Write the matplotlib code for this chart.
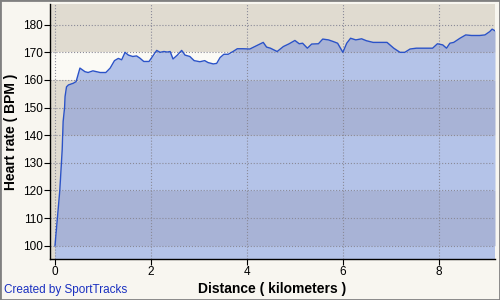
import numpy as np
import matplotlib.pyplot as plt
from matplotlib.patches import Rectangle

# distance (km) and heart rate (bpm)
dist = [0.0, 0.1, 0.15, 0.17, 0.2, 0.21, 0.24, 0.28, 0.38, 0.44, 0.52, 0.625, 0.69, 0.79,
        0.94, 1.06, 1.15, 1.24, 1.32, 1.39, 1.46, 1.53, 1.62, 1.70, 1.77, 1.85, 1.96,
        2.04, 2.12, 2.19, 2.27, 2.34, 2.40, 2.46, 2.55, 2.64, 2.71, 2.81, 2.90, 3.02,
        3.12, 3.19, 3.30, 3.37, 3.44, 3.52, 3.61, 3.71, 3.80, 3.92, 4.06, 4.20, 4.34,
        4.41, 4.49, 4.63, 4.76, 4.88, 5.0, 5.09, 5.16, 5.26, 5.35, 5.49, 5.58, 5.70,
        5.80, 5.89, 6.0, 6.08, 6.16, 6.27, 6.39, 6.49, 6.63, 6.81, 6.92, 7.06, 7.19,
        7.29, 7.40, 7.53, 7.74, 7.87, 7.97, 8.08, 8.16, 8.23, 8.31, 8.44, 8.56, 8.68,
        8.85, 8.96, 9.06, 9.11, 9.17]
hr = [100, 120, 134.7, 145, 150, 154, 157.5, 158.2, 158.8, 159.4, 164.3, 163, 162.7, 163.3,
      162.7, 162.7, 164.3, 167, 167.8, 167.3, 170, 169, 168.5, 168.7, 167.9, 166.7, 166.7,
      168.7, 170.7, 170, 170.3, 170.1, 170.3, 167.6, 169, 170.7, 169, 168.5, 167, 166.6,
      167, 166.3, 165.8, 166, 168.1, 169.3, 169.3, 170.3, 171.3, 171.3, 171.2, 172.4, 173.6,
      171.9, 171.5, 170.3, 172.1, 173.1, 174.3, 173.1, 173.3, 171.5, 173, 173.1, 174.8, 174.5,
      173.9, 173.3, 170, 173.3, 175.1, 174.5, 174.9, 174.2, 173.6, 173.6, 173.6, 171.5, 170,
      170, 171.2, 171.5, 171.5, 171.5, 173.1, 172.7, 171.5, 173.3, 173.6, 175.1, 176.3, 176.1,
      176.1, 176.3, 177.5, 178.4, 177.8]

x_ticks = [0, 2, 4, 6, 8]
y_ticks = [100, 110, 120, 130, 140, 150, 160, 170, 180]

# zone bands: (low, high, background, fill under curve)
beige = '#e0dbd0'
white = '#fbfaf5'
dark_fill = '#a8b3d6'
light_fill = '#b4c3e8'
bands = [(80, 100, beige, light_fill), (100, 120, beige, dark_fill),
         (120, 140, beige, light_fill), (140, 160, beige, dark_fill),
         (160, 170, white, light_fill), (170, 200, beige, dark_fill)]

plt.rcParams['font.family'] = ['Liberation Sans', 'DejaVu Sans']

x = np.array(dist)
y = np.array(hr)

fig = plt.figure(figsize=(5, 3), dpi=100, facecolor='#f8f6f0')
ax = fig.add_axes([0.1, 0.1367, 0.89, 0.85])
ax.set_xlim(-0.104, 9.17)
ax.set_ylim(95.2, 187.5)

for lo, hi, bg, fc in bands:
    ax.axhspan(lo, hi, color=bg, lw=0, zorder=0)
    ax.fill_between(x, lo, np.clip(y, lo, hi), color=fc, lw=0, zorder=1)

ax.plot(x, y, color='#2a52c8', lw=1.0, zorder=3)

ax.set_xticks(x_ticks)
ax.set_yticks(y_ticks)
ax.grid(True, color='#8a8a98', ls=':', lw=0.8, zorder=2)
ax.set_axisbelow(False)
for sp in ['top', 'right']:
    ax.spines[sp].set_visible(False)
for sp in ['left', 'bottom']:
    ax.spines[sp].set_linewidth(1.0)
    ax.spines[sp].set_zorder(4)
ax.tick_params(direction='out', length=4, width=0.8, labelsize=8.5, pad=1)

ax.set_ylabel('Heart rate ( BPM )', fontsize=10, fontweight='bold', labelpad=4)
ax.set_xlabel('Distance ( kilometers )', fontsize=10, fontweight='bold', labelpad=3)
fig.text(0.008, 0.022, 'Created by SportTracks', color='#1a30c0', fontsize=8.5)

fig.patches.append(Rectangle((0, 0), 1, 1, transform=fig.transFigure, fill=False,
                             ec='#808080', lw=2))

fig.savefig('out.png', dpi=100, facecolor=fig.get_facecolor())
